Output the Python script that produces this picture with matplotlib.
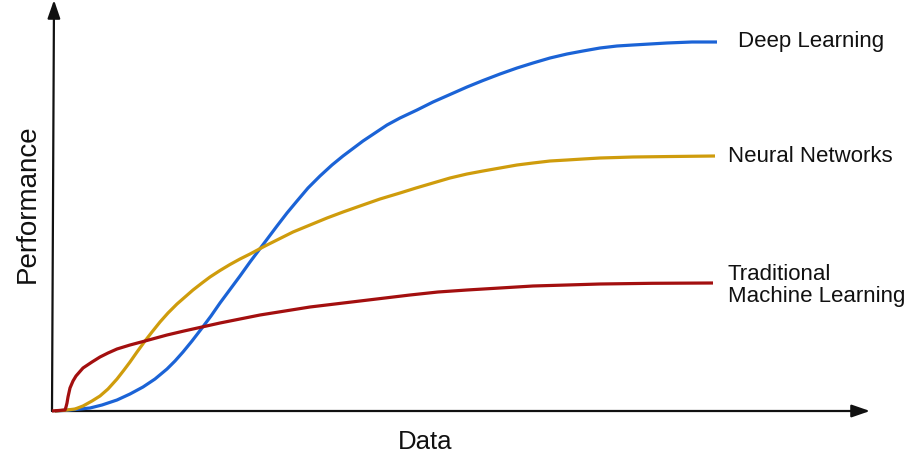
import matplotlib
matplotlib.use("Agg")
import matplotlib.pyplot as plt

plt.rcParams['font.family'] = ['Liberation Sans', 'DejaVu Sans']

# Data amount (x) and performance (y), arbitrary units
deep_x = [3, 18, 38, 50, 65, 78, 91, 103, 115, 123, 131, 140, 150, 159, 168,
          178, 188, 198, 213, 225, 235, 245, 256, 268, 280, 291, 311, 323,
          335, 348, 365, 381, 398, 415, 431, 448, 465, 481, 498, 515, 531,
          548, 565, 581, 598, 615, 640, 665]
deep_y = [0, 1, 3, 6, 11, 17, 24, 32, 42, 50, 59, 70, 83, 95, 108,
          121.5, 135, 149, 169, 185, 198, 210, 223, 235, 246, 255, 270, 278,
          286, 293, 301, 309, 316.5, 324, 330.5, 337, 343, 348, 353, 357, 360,
          363, 365, 366, 367, 368, 369, 369]

nn_x = [3, 15, 23, 31, 40, 48, 56, 65, 72, 78, 85, 93, 100, 108, 116, 125,
        133, 141, 150, 158, 168, 178, 188, 198, 213, 227, 241, 258, 275,
        291, 308, 328, 348, 364, 381, 398, 415, 431, 448, 465, 481, 498,
        515, 531, 548, 565, 581, 620, 663]
nn_y = [0, 1, 2, 5, 10, 15, 22, 32, 41, 49, 59, 70, 79, 89, 98, 107,
        114, 121, 128, 134, 140.5, 146.5, 152, 157, 165, 172, 179, 186, 193,
        199, 205, 212, 218, 223, 228, 233, 237, 240, 243, 246, 248, 250,
        251, 252, 253, 253.5, 254, 254.5, 255]

trad_x = [0, 13, 14, 15, 16, 18, 21, 24, 31, 40, 48, 56, 65, 78, 93, 104,
          115, 132, 150, 168, 188, 208, 233, 258, 283, 308, 333, 358, 386,
          415, 448, 481, 515, 548, 600, 661]
trad_y = [0, 1, 4, 8, 14, 23, 30, 35, 43, 49, 54, 58, 62, 66, 70, 73,
          76, 80, 84, 88, 92, 96, 100, 104, 107, 110, 113, 116, 119,
          121, 123, 125, 126, 127, 127.7, 128]

labels = ["Deep Learning", "Neural Networks", "Traditional\nMachine Learning"]
colors = ["#1b63d6", "#cf9c0c", "#a30f0f"]
x_label = "Data"
y_label = "Performance"

fig = plt.figure(figsize=(9.08, 4.54), dpi=100)
ax = fig.add_axes([0, 0, 1, 1])
ax.set_xlim(-52, 856)
ax.set_ylim(-43, 411)
ax.axis('off')

series = [(deep_x, deep_y), (nn_x, nn_y), (trad_x, trad_y)]
for (xs, ys), c in zip(series, colors):
    ax.plot(xs, ys, color=c, lw=2.3, solid_capstyle='butt',
            solid_joinstyle='round', zorder=3)

# axes with arrows
arrow = dict(arrowstyle='-|>,head_length=1.1,head_width=0.38', lw=1.6,
             color='#111111', shrinkA=0, shrinkB=0, mutation_scale=10)
ax.annotate('', xy=(818, 0), xytext=(0, 0), arrowprops=arrow, zorder=2)
ax.annotate('', xy=(2, 411), xytext=(0, 0), arrowprops=arrow, zorder=2)

# series labels
ax.text(686, 369, labels[0], fontsize=16, va='center', ha='left', color='#111111')
ax.text(676, 254, labels[1], fontsize=16, va='center', ha='left', color='#111111')
ax.text(676, 125.5, labels[2], fontsize=16, va='center', ha='left', color='#111111',
        linespacing=1.1)

ax.text(373, -31, x_label, fontsize=18.5, ha='center', va='center', color='#111111')
ax.text(-24, 207, y_label, fontsize=20, ha='center', va='center', rotation=90,
        color='#111111')

fig.savefig("out.png", dpi=100)
